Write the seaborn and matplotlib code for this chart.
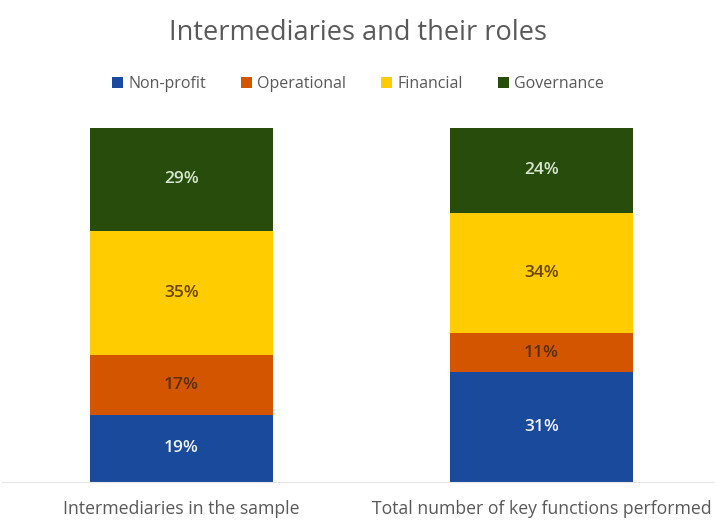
import numpy as np
import pandas as pd
import matplotlib
matplotlib.use("Agg")
import matplotlib.pyplot as plt
import seaborn as sns
from matplotlib.patches import Patch

categories = ["Intermediaries in the sample", "Total number of key functions performed"]
series_names = ["Non-profit", "Operational", "Financial", "Governance"]
nonprofit = [19, 31]
operational = [17, 11]
financial = [35, 34]
governance = [29, 24]

colors = ["#1A4A9C", "#D45500", "#FFCC00", "#274C0B"]
label_colors = ["#EEF2FA", "#5A3000", "#6A4400", "#D8E6CF"]

sns.set_theme(style="white")
plt.rcParams["font.family"] = ["Open Sans", "DejaVu Sans"]

fig = plt.figure(figsize=(7.16, 5.25), dpi=100)
W, H = 716, 525
# axes spans the full width; bars centred at 181.5 px and 541.5 px
ax_left, ax_right = 2, 714
ax_bottom, ax_top = 482, 128
ax = fig.add_axes([ax_left / W, 1 - ax_bottom / H, (ax_right - ax_left) / W, (ax_bottom - ax_top) / H])

values = [nonprofit, operational, financial, governance]
df = pd.DataFrame({"category": categories})
bottom = np.zeros(len(categories))
for name, vals, col, lcol in zip(series_names, values, colors, label_colors):
    df[name] = vals
    sns.barplot(data=df, x="category", y=name, color=col, bottom=bottom,
                width=0.508, saturation=1, ax=ax, linewidth=0)
    for i, v in enumerate(vals):
        ax.text(i, bottom[i] + v / 2, f"{v}%", ha="center", va="center",
                color=lcol, fontsize=12.5, fontweight="semibold")
    bottom = bottom + np.array(vals)

px_per_unit = 360
ax.set_xlim((ax_left - 181.5) / px_per_unit, (ax_right - 181.5) / px_per_unit)
ax.set_ylim(0, 100)
ax.set_yticks([])
ax.set_xlabel("")
ax.set_ylabel("")
ax.tick_params(axis="x", length=0, pad=13, labelsize=12.7, labelcolor="#595959")
for s in ["top", "right", "left"]:
    ax.spines[s].set_visible(False)
ax.spines["bottom"].set_color("#E6E6E6")
ax.spines["bottom"].set_linewidth(0.8)

fig.text(0.5, 1 - 33 / H, "Intermediaries and their roles", ha="center", va="center",
         fontsize=19.5, color="#595959")

handles = [Patch(facecolor=c, edgecolor="none") for c in colors]
fig.legend(handles, series_names, loc="center", bbox_to_anchor=(0.5, 1 - 84 / H), ncol=4,
           frameon=False, fontsize=11.5, labelcolor="#595959", handlelength=0.7,
           handleheight=0.7, handletextpad=0.3, columnspacing=2.2)

fig.savefig("out.png", dpi=100)
